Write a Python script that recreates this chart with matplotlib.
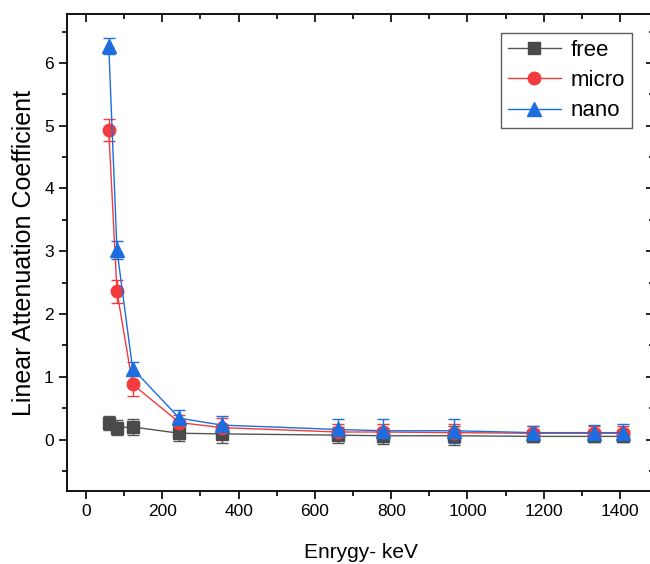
import matplotlib
matplotlib.use("Agg")
import matplotlib.pyplot as plt
from matplotlib.ticker import MultipleLocator
from matplotlib.lines import Line2D, TICKDOWN, TICKLEFT

plt.rcParams['font.family'] = ['Liberation Sans', 'DejaVu Sans']

energy = [59.5, 81, 122, 244.7, 356, 661.7, 778.9, 964, 1173, 1332, 1408]
free = [0.26, 0.19, 0.20, 0.10, 0.09, 0.07, 0.06, 0.06, 0.05, 0.05, 0.05]
free_err = [0.11, 0.12, 0.13, 0.13, 0.14, 0.13, 0.13, 0.15, 0.09, 0.09, 0.09]
micro = [4.93, 2.36, 0.88, 0.27, 0.19, 0.12, 0.12, 0.11, 0.10, 0.10, 0.10]
micro_err = [0.17, 0.18, 0.18, 0.12, 0.15, 0.12, 0.12, 0.13, 0.12, 0.12, 0.12]
nano = [6.27, 3.02, 1.13, 0.34, 0.23, 0.16, 0.14, 0.14, 0.11, 0.11, 0.11]
nano_err = [0.12, 0.14, 0.10, 0.13, 0.14, 0.17, 0.18, 0.19, 0.11, 0.12, 0.13]

series = [
    ("free", free, free_err, "s", "#4a4a4a", "#555555", 8),
    ("micro", micro, micro_err, "o", "#f23b3d", "#f23b3d", 9),
    ("nano", nano, nano_err, "^", "#1c6ddf", "#1c6ddf", 10),
]

fig = plt.figure(figsize=(6.5, 5.64), dpi=100)
ax = fig.add_axes([67/650, 73/564, 587/650, 477/564])

handles = []
for name, y, e, m, mc, lc, ms in series:
    ax.errorbar(energy, y, yerr=e, fmt='-', marker=m, color=lc, mfc=mc, mec=mc,
                ms=ms, lw=1.0, elinewidth=1.0, capsize=4, capthick=1.0,
                ecolor=lc)
    handles.append(Line2D([], [], color=lc, lw=1.0, marker=m, mfc=mc, mec=mc,
                          ms=ms, label=name))

ax.set_xlim(-50, 1489)
ax.set_ylim(-0.82, 6.78)
ax.xaxis.set_major_locator(MultipleLocator(200))
ax.xaxis.set_minor_locator(MultipleLocator(100))
ax.yaxis.set_major_locator(MultipleLocator(1))
ax.yaxis.set_minor_locator(MultipleLocator(0.5))

ax.tick_params(axis='both', which='major', labelsize=12.5, length=6, width=1.2, color='black')
ax.tick_params(axis='both', which='minor', length=3.5, width=1.2)
ax.tick_params(axis='x', which='both', direction='out', top=True)
ax.tick_params(axis='y', which='both', direction='out', right=True)
for t in ax.xaxis.get_major_ticks() + ax.xaxis.get_minor_ticks():
    t.tick2line.set_marker(TICKDOWN)
for t in ax.yaxis.get_major_ticks() + ax.yaxis.get_minor_ticks():
    t.tick2line.set_marker(TICKLEFT)

for s in ax.spines.values():
    s.set_linewidth(1.3)

ax.set_xlabel("Enrygy- keV", fontsize=15, labelpad=17)
ax.set_ylabel("Linear Attenuation Coefficient", fontsize=18, labelpad=6)

ax_w = 587
leg = ax.legend(handles=handles, loc='upper right',
                bbox_to_anchor=((632 - 67) / ax_w, 1 - 19 / 477),
                fontsize=16, frameon=True, fancybox=False, handlelength=2.4,
                borderpad=0.3, labelspacing=0.42, handletextpad=0.45,
                borderaxespad=0)
leg.get_frame().set_edgecolor('#333333')
leg.get_frame().set_linewidth(1.0)

fig.savefig("out.png", dpi=100)
